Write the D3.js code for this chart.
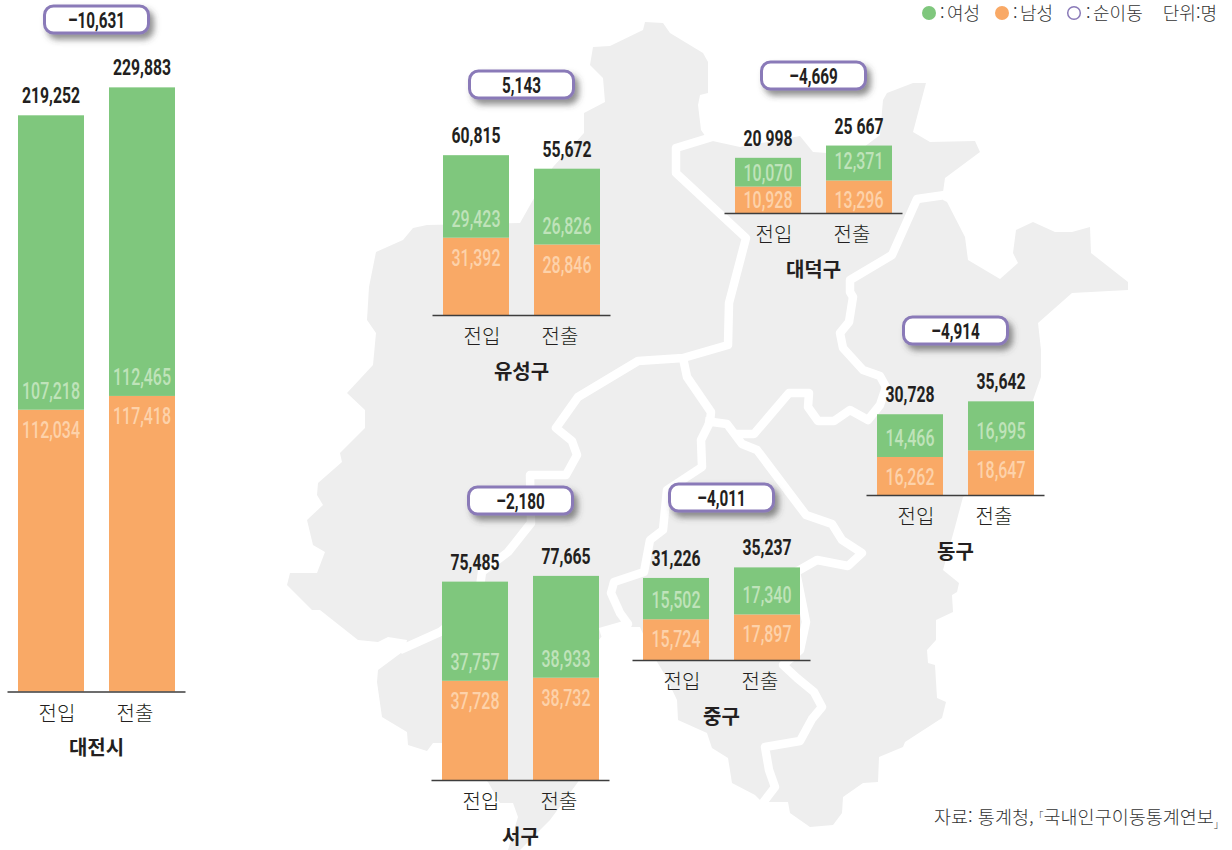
<!DOCTYPE html>
<html lang="ko">
<head>
<meta charset="utf-8">
<script src="https://cdn.jsdelivr.net/npm/d3@7"></script>
<style>
html,body{margin:0;padding:0;background:#fff;}
svg{display:block;}
text{font-family:"Noto Sans CJK KR","Noto Sans",sans-serif;fill:#231f20;}
</style>
</head>
<body>
<div id="chart"></div>
<script>
// ---- data ----
const regions   = ["대전시","유성구","서구","대덕구","중구","동구"];
const flows     = ["전입","전출"];
// printed labels of the green (upper) and orange (lower) segments
const femaleIn  = [107218,29423,37757,10070,15502,14466];
const maleIn    = [112034,31392,37728,10928,15724,16262];
const femaleOut = [112465,26826,38933,12371,17340,16995];
const maleOut   = [117418,28846,38732,13296,17897,18647];
const totalInLabels  = ["219,252","60,815","75,485","20 998","31,226","30,728"];
const totalOutLabels = ["229,883","55,672","77,665","25 667","35,237","35,642"];
const netLabels = ["-10,631","5,143","-2,180","-4,669","-4,011","-4,914"];
const legendNames = ["여성","남성","순이동"];
const unitLabel = "단위:명";
const sourceParts = ["자료: 통계청,","「","국내인구이동통계연보","」"];

// ---- layout ----
const W = 1232, H = 850;
const panelLeft = [18,443,442,735,643,877];
const panelBase = [691.5,315,780,213,660,495];
const pillTop   = [5,70,486,61,483,316];
const barSpan = 157, axisOver = 10.5, pxPerUnit = 0.002628;
const COL = {f:"#7fc77d", m:"#f9a966", fl:"#bfe3ba", ml:"#fdd2aa", ring:"#8a7ab8", map:"#eeeeee"};

// backdrop map of Daejeon (decorative outline)
const mapOutline = [[590,65],[593,47],[610,46],[643,30],[645,22],[663,23],[670,33],[703,53],[708,62],[708,93],[700,95],[698,105],[701,130],[708,140],[740,147],[800,136],[813,152],[827,153],[860,150],[880,135],[883,100],[887,93],[913,83],[926,83],[913,132],[930,142],[975,141],[980,152],[945,178],[943,192],[943,200],[947,202],[965,237],[968,260],[1000,279],[1018,263],[1013,253],[1016,230],[1033,222],[1055,232],[1072,232],[1090,227],[1091,253],[1128,282],[1128,290],[1072,293],[1038,323],[1041,350],[1041,377],[1033,400],[1010,470],[963,497],[955,527],[943,570],[959,583],[957,592],[952,595],[953,612],[936,620],[936,640],[927,650],[928,663],[935,665],[937,698],[946,702],[942,718],[905,742],[903,747],[879,757],[878,782],[863,783],[843,797],[842,813],[833,825],[810,827],[790,813],[788,802],[762,802],[755,795],[732,783],[728,758],[712,748],[707,733],[678,720],[677,700],[665,675],[650,650],[640,627],[608,627],[599,640],[599,740],[578,782],[550,820],[520,850],[508,850],[518,817],[513,803],[500,803],[488,782],[442,743],[433,743],[427,751],[408,745],[407,732],[382,717],[377,682],[378,670],[405,650],[407,640],[388,637],[378,642],[358,640],[320,610],[312,610],[287,585],[290,573],[317,573],[325,552],[313,545],[307,520],[323,505],[317,495],[318,483],[342,462],[340,453],[365,428],[365,410],[347,393],[373,365],[376,333],[367,320],[369,287],[376,252],[403,240],[413,228],[427,225],[520,223],[533,200],[553,167],[584,133],[584,113],[605,102],[603,78]];
const mapBorders = [
 [[712,137],[676,148],[676,173],[746,238],[729,303],[728,345],[683,358],[638,361],[578,397],[556,428],[572,441],[577,455],[566,475],[530,475],[531,523],[508,552],[482,572],[478,602],[440,632],[400,650]],
 [[683,358],[687,377],[711,412],[710,422],[701,440],[702,467],[667,490],[663,530],[650,540],[644,572],[614,582],[611,593],[620,613],[628,624],[600,632]],
 [[945,195],[917,199],[892,255],[850,280],[850,292],[853,297],[849,322],[840,333],[843,348],[863,370],[880,376],[886,387],[880,405],[868,420],[850,410],[834,421],[818,421],[808,407],[809,393],[789,393],[754,434],[733,434]],
 [[705,421],[727,424],[742,444],[757,450],[806,515],[832,524],[842,540],[862,553],[848,566],[817,560],[796,572],[806,622],[800,650],[783,665],[797,678],[814,692],[822,707],[812,719],[800,741],[765,747],[769,770],[775,787],[762,804]]
];

const svg = d3.select("#chart").append("svg").attr("width",W).attr("height",H).attr("viewBox",`0 0 ${W} ${H}`);
const defs = svg.append("defs");
const fl = defs.append("filter").attr("id","pillShadow").attr("x","-20%").attr("y","-40%").attr("width","150%").attr("height","200%");
fl.append("feDropShadow").attr("dx",4).attr("dy",5).attr("stdDeviation",3).attr("flood-color","#444").attr("flood-opacity",0.6);

// narrow numeric text: Roboto squeezed horizontally to look like the condensed DIN of the original
function numText(g,x,y,str,size,weight,fill,sx){
  return g.append("text").attr("transform",`translate(${x},${y}) scale(${sx},1)`)
    .attr("text-anchor","middle").style("font-family","Roboto,sans-serif")
    .style("font-size",size+"px").style("font-weight",weight).style("fill",fill).text(str.replace("-","–"));
}

// map
const lineGen = d3.line();
svg.append("path").attr("d",lineGen(mapOutline)+"Z").attr("fill",COL.map);
svg.selectAll(".border").data(mapBorders).join("path").attr("class","border")
  .attr("d",d=>lineGen(d)).attr("fill","none").attr("stroke","#fff").attr("stroke-width",8.5)
  .attr("stroke-linejoin","round").attr("stroke-linecap","butt");

// panels
regions.forEach((name,i)=>{
  const g = svg.append("g").attr("class","panel");
  const left = panelLeft[i], base = panelBase[i];
  const x = d3.scaleBand().domain(flows).range([left,left+barSpan]).paddingInner(25/91).paddingOuter(0);
  const y = d3.scaleLinear().domain([0,1/pxPerUnit]).range([base,base-1]);
  // as in the source picture, the orange lower segment is as tall as the value printed on green
  const rows = [
    {flow:flows[0], lower:femaleIn[i],  upper:maleIn[i],  label:totalInLabels[i]},
    {flow:flows[1], lower:femaleOut[i], upper:maleOut[i], label:totalOutLabels[i]}
  ];
  const stack = d3.stack().keys(["lower","upper"])(rows);
  const colors = [COL.m,COL.f];
  stack.forEach((layer,k)=>{
    g.selectAll(null).data(layer).join("rect")
      .attr("x",d=>x(d.data.flow)).attr("width",x.bandwidth())
      .attr("y",d=>y(d[1])).attr("height",d=>y(d[0])-y(d[1])).attr("fill",colors[k]);
  });
  rows.forEach(r=>{
    const cx = x(r.flow)+x.bandwidth()/2;
    const mid = y(r.lower), top = y(r.lower+r.upper);
    const digit = 17;
    const fBase = (mid-top)<30 ? (mid+top)/2+digit/2 : mid-11;
    const mBase = (base-mid)<30 ? (base+mid)/2+digit/2 : mid+28;
    numText(g,cx,fBase,d3.format(",")(r.lower),23.5,500,COL.fl,0.68);
    numText(g,cx,mBase,d3.format(",")(r.upper),23.5,500,COL.ml,0.68);
    numText(g,cx,top-12,r.label,22.5,700,"#231f20",0.70);
  });
  // axis
  const ax = d3.axisBottom(x).tickSize(0).tickPadding(0);
  const axG = g.append("g").attr("transform",`translate(0,${base})`).call(ax);
  axG.select(".domain").attr("d",`M${left-axisOver},0.5H${left+barSpan+axisOver}`).attr("stroke","#3d3d3d").attr("stroke-width",1.3);
  axG.selectAll(".tick text").attr("y",0).attr("dy",0)
    .attr("transform",(d,j)=>`translate(${j===0?6:-7},29)`)
    .style("font-size","20px").style("font-weight",300).style("fill","#231f20").attr("font-family",null);
  // region title
  const mid = left+barSpan/2;
  g.append("text").attr("x",mid).attr("y",base+63.5).attr("text-anchor","middle")
    .style("font-size","20px").style("font-weight",700).text(name);
  // net pill
  const pw=104,ph=27;
  g.append("rect").attr("x",mid-pw/2).attr("y",pillTop[i]+1).attr("width",pw).attr("height",ph).attr("rx",9)
    .attr("fill","#fff").attr("stroke",COL.ring).attr("stroke-width",3).attr("filter","url(#pillShadow)");
  numText(g,mid,pillTop[i]+23,netLabels[i],22.5,700,"#231f20",0.68);
});

// legend
const legendCx=[929,1002,1074], legendTx=[940,1013,1086];
const legendFill=[COL.f,COL.m,"#fff"], legendStroke=["none","none",COL.ring];
const lg = svg.append("g");
legendNames.forEach((n,i)=>{
  lg.append("circle").attr("cx",legendCx[i]).attr("cy",13).attr("r",i===2?6.3:7)
    .attr("fill",legendFill[i]).attr("stroke",legendStroke[i]).attr("stroke-width",1.5);
  const t = lg.append("text").attr("x",legendTx[i]).attr("y",19.5).style("font-size","18px").style("font-weight",300).style("fill","#333");
  t.append("tspan").text(":");
  t.append("tspan").attr("dx",2.5).text(n);
});
lg.append("text").attr("x",1217).attr("y",19.5).attr("text-anchor","end").style("font-size","18px").style("font-weight",300).style("fill","#333").text(unitLabel);

// source
const src = svg.append("text").attr("x",934).attr("y",824)
  .style("font-size","18.5px").style("font-weight",300).style("letter-spacing","0px").style("fill","#333");
src.append("tspan").text(sourceParts[0]);
src.append("tspan").attr("dy",-4).style("font-size","10px").text(sourceParts[1]);
src.append("tspan").attr("dy",4).text(sourceParts[2]);
src.append("tspan").attr("dy",4).style("font-size","10px").text(sourceParts[3]);
</script>
</body>
</html>
